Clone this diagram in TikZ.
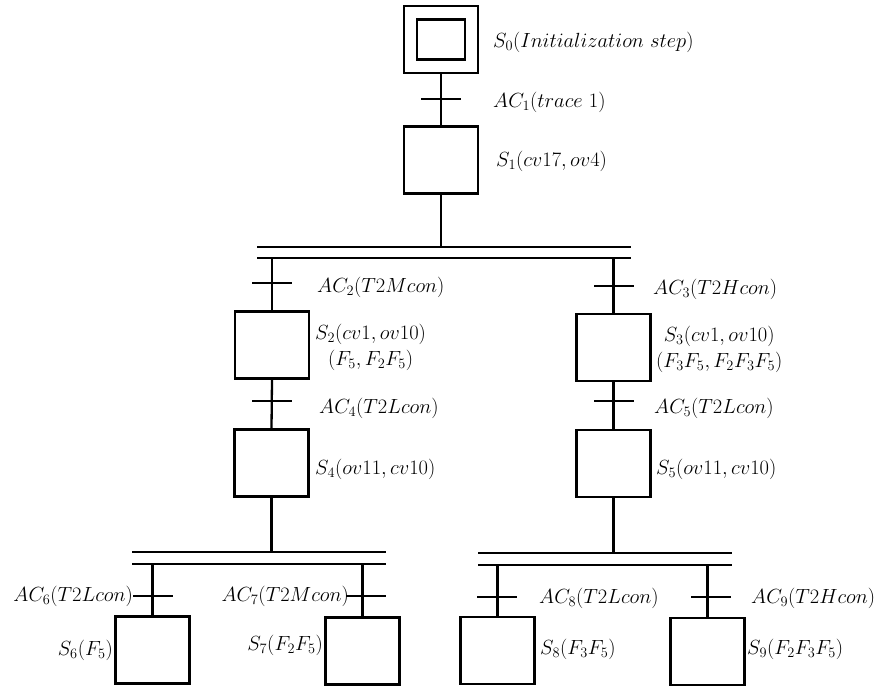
\RequirePackage{fix-cm}
\documentclass[tikz,border=0pt]{standalone}
\begin{document}
\begin{tikzpicture}[x=1pt,y=-1pt,
  stepbox/.style={draw, line width=2.5pt, inner sep=0pt, minimum width=74pt, minimum height=67pt},
  initbox/.style={draw, line width=2.5pt, inner sep=0pt, minimum width=48pt, minimum height=40pt},
  trans/.style={fill=black, draw=none, inner sep=0pt, minimum width=40pt, minimum height=1.2pt},
  link/.style={line width=2.3pt},
  sync/.style={line width=2.7pt},
  lbl/.style={font=\fontsize{20.5}{26}\selectfont, inner sep=0pt}]
\useasboundingbox (0,0) rectangle (877,686);

% steps
\node[stepbox] (s0) at (441,39.5) {};
\node[initbox] (s0i) at (s0.center) {};
\node[stepbox] (s1) at (441,160) {};
\node[stepbox] (s2) at (272,345) {};
\node[stepbox] (s3) at (613.5,347.5) {};
\node[stepbox] (s4) at (271.5,463) {};
\node[stepbox] (s5) at (613.5,463.5) {};
\node[stepbox] (s6) at (152.5,650) {};
\node[stepbox] (s7) at (362.5,651) {};
\node[stepbox] (s8) at (497.5,650.5) {};
\node[stepbox] (s9) at (707.5,651.5) {};

% synchronisation bars (divergence of parallel branches)
\coordinate (b1a) at (257,247);  \coordinate (b1b) at (631,247);
\coordinate (b1c) at (257,258);  \coordinate (b1d) at (631,258);
\coordinate (b2a) at (132,552);  \coordinate (b2b) at (386,552);
\coordinate (b2c) at (132,564);  \coordinate (b2d) at (386,564);
\coordinate (b3a) at (478,553);  \coordinate (b3b) at (732,553);
\coordinate (b3c) at (478,565);  \coordinate (b3d) at (732,565);
\draw[sync] (b1a) -- (b1b) (b1c) -- (b1d);
\draw[sync] (b2a) -- (b2b) (b2c) -- (b2d);
\draw[sync] (b3a) -- (b3b) (b3c) -- (b3d);

% links
\draw[link] (s0.south) -- (s1.north);
\draw[link] (s1.south) -- (s1.south |- b1a);
\draw[link] (s2.north |- b1c) -- (s2.north);
\draw[link] (s3.north |- b1c) -- (s3.north);
\draw[link] (s2.south) -- (s4.north);
\draw[link] (s3.south) -- (s5.north);
\draw[link] (s4.south) -- (s4.south |- b2a);
\draw[link] (s5.south) -- (s5.south |- b3a);
\draw[link] (s6.north |- b2c) -- (s6.north);
\draw[link] (s7.north |- b2c) -- (s7.north);
\draw[link] (s8.north |- b3c) -- (s8.north);
\draw[link] (s9.north |- b3c) -- (s9.north);

% transitions
\node[trans] (t1) at (441,99) {};
\node[trans] (t2) at (272,283) {};
\node[trans] (t3) at (613.5,286) {};
\node[trans] (t4) at (272,401) {};
\node[trans] (t5) at (613.5,401) {};
\node[trans] (t6) at (153,596) {};
\node[trans] (t7) at (366,596) {};
\node[trans] (t8) at (497,597) {};
\node[trans] (t9) at (711,597) {};

% step labels
\node[lbl, anchor=west] (l0) at (493,42) {$S_0(Initialization\ step)$};
\node[lbl, anchor=west] (l1) at (496,161) {$S_1(cv17, ov4)$};
\node[lbl, align=center, anchor=west] (l2) at (315,347) {$S_2(cv1, ov10)$\\$(F_5, F_2F_5)$};
\node[lbl, align=center, anchor=west] (l3) at (656,349) {$S_3(cv1, ov10)$\\$(F_3F_5, F_2F_3F_5)$};
\node[lbl, anchor=west] (l4) at (315,469) {$S_4(ov11, cv10)$};
\node[lbl, anchor=west] (l5) at (656,469) {$S_5(ov11, cv10)$};
\node[lbl, anchor=east] (l6) at (113,650) {$S_6(F_5)$};
\node[lbl, anchor=east] (l7) at (323,645) {$S_7(F_2F_5)$};
\node[lbl, anchor=west] (l8) at (540,649) {$S_8(F_3F_5)$};
\node[lbl, anchor=west] (l9) at (747,649) {$S_9(F_2F_3F_5)$};

% transition labels
\node[lbl, anchor=west] (a1) at (493,102) {$AC_1(trace\ 1)$};
\node[lbl, anchor=west] (a2) at (317,287) {$AC_2(T2Mcon)$};
\node[lbl, anchor=west] (a3) at (653,289) {$AC_3(T2Hcon)$};
\node[lbl, anchor=west] (a4) at (319,408) {$AC_4(T2Lcon)$};
\node[lbl, anchor=west] (a5) at (654,408) {$AC_5(T2Lcon)$};
\node[lbl, anchor=east] (a6) at (133,596) {$AC_6(T2Lcon)$};
\node[lbl, anchor=east] (a7) at (349,596) {$AC_7(T2Mcon)$};
\node[lbl, anchor=west] (a8) at (539,598) {$AC_8(T2Lcon)$};
\node[lbl, anchor=west] (a9) at (751,598) {$AC_9(T2Hcon)$};
\end{tikzpicture}
\end{document}
